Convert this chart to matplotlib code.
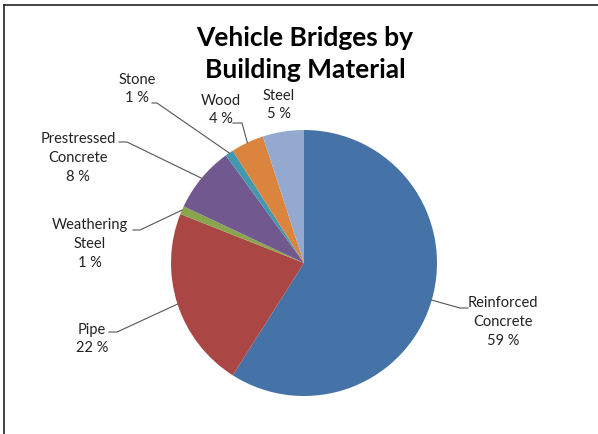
import matplotlib.pyplot as plt
import numpy as np
from matplotlib.lines import Line2D

W, H = 598, 434

materials = ['Reinforced\nConcrete', 'Pipe', 'Weathering\nSteel', 'Prestressed\nConcrete',
             'Stone', 'Wood', 'Steel']
shares = [59, 22, 1, 8, 1, 4, 5]

colors = ['#4572A7', '#AA4643', '#89A54E', '#71588F', '#4198AF', '#DB843D', '#93A9CF']

# label block centre (px, y down) and the bend/end of each leader line
label_xy = [(503, 322), (92, 339), (90, 244), (78, 158), (137, 89), (221, 110), (279, 105)]
leader_bend = [(460, 308), (117, 332), (140, 230), (127, 142), (157, 103), (242, 123), None]
leader_end = [(468, 308), (109, 332), (133, 230), (119, 142), (152, 103), (233, 123), None]

center = (304, 263)
radius = 133

plt.rcParams['font.family'] = ['Lato', 'DejaVu Sans']


def px(x, y):
  return x, H - y


fig = plt.figure(figsize=(W / 100, H / 100), dpi=100)
ax = fig.add_axes([0, 0, 1, 1])

wedges, _ = ax.pie(shares, colors=colors, startangle=90, counterclock=False,
                   center=px(*center), radius=radius, wedgeprops=dict(linewidth=0))
ax.set_xlim(0, W)
ax.set_ylim(0, H)
ax.set_aspect('equal')
ax.axis('off')

for wedge, name, v, (lx, ly), bend, end in zip(wedges, materials, shares, label_xy,
                                               leader_bend, leader_end):
  ax.text(*px(lx, ly), f'{name}\n{v} %', ha='center', va='center', fontsize=10.5,
          color='#222222', linespacing=1.45)
  if bend is None:
    continue
  mid = np.deg2rad((wedge.theta1 + wedge.theta2) / 2)
  cx, cy = wedge.center
  edge = (cx + radius * np.cos(mid), cy + radius * np.sin(mid))
  xs = [edge[0], px(*bend)[0], px(*end)[0]]
  ys = [edge[1], px(*bend)[1], px(*end)[1]]
  ax.plot(xs, ys, color='#555555', linewidth=0.8)

ax.text(*px(305, 54), 'Vehicle Bridges by\nBuilding Material', ha='center', va='center',
        fontsize=19, fontweight='bold', color='black', linespacing=1.4)

# chart area frame, only left and top edges fall inside the image
fig.add_artist(Line2D([4 / W, 4 / W], [0, 1 - 5 / H], color='#222222', linewidth=1.2))
fig.add_artist(Line2D([4 / W, 1], [1 - 5 / H, 1 - 5 / H], color='#222222', linewidth=1.2))

fig.savefig('out.png', dpi=100)
